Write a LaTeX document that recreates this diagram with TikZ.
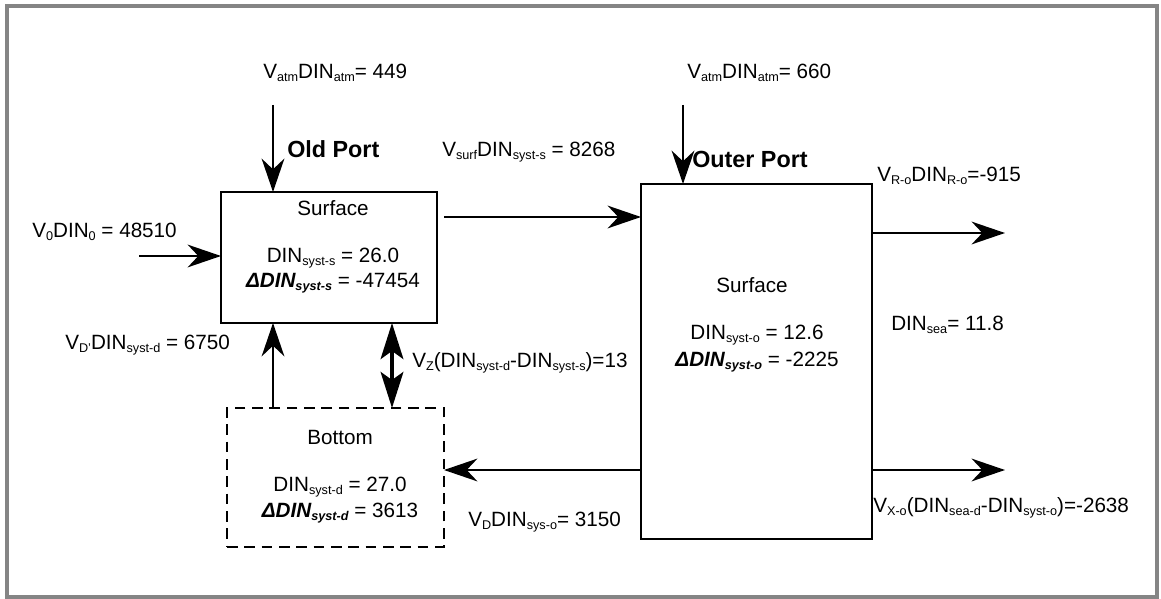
\documentclass[tikz,border=0pt]{standalone}
\usepackage{fontspec}
\setmainfont{Liberation Sans}
\usetikzlibrary{arrows.meta,calc}

\newcommand{\lowr}[1]{\raisebox{-2.2pt}{\fontsize{9.5pt}{10pt}\selectfont #1}}
\newcommand{\dltbf}[1]{{\bfseries\itshape ΔDIN\lowr{#1}}}

\begin{document}
\begin{tikzpicture}[
  x=0.75pt, y=-0.75pt,
  font=\fontsize{15.5pt}{18.75pt}\selectfont,
  flow/.style={-{Stealth[length=25pt,width=17pt,inset=8pt]}, line width=2.2pt},
  twoway/.style={{Stealth[length=27pt,width=17pt,inset=6pt]}-{Stealth[length=27pt,width=17pt,inset=6pt]}, line width=2.8pt},
  sysbox/.style={draw, line width=2.2pt, inner sep=0pt, outer sep=0pt},
  lbl/.style={anchor=west, inner sep=0pt},
  portname/.style={anchor=west, inner sep=0pt, font=\fontsize{17.5pt}{20pt}\selectfont\bfseries}
]
  \useasboundingbox (0,0) rectangle (1161,599);
  \draw[line width=2.3pt, draw=black!48] (7,6) rectangle (1157,597);

  % boxes
  \node[sysbox, minimum width=162pt, minimum height=98.25pt] (oldsurf) at (329,257.5) {};
  \node[sysbox, dash pattern=on 8pt off 5pt, minimum width=162.75pt, minimum height=104.25pt] (oldbot) at (335.5,477.5) {};
  \node[sysbox, minimum width=173.25pt, minimum height=266.25pt] (outsurf) at (756.5,361.5) {};

  % box texts
  \node (t1) at (333,208) {Surface};
  \node (t2) at (333,258) {DIN\lowr{syst-s} = 26.0};
  \node (t3) at (333,283) {\dltbf{syst-s} = -47454};
  \node (t4) at (340,437) {Bottom};
  \node (t5) at (340,487) {DIN\lowr{syst-d} = 27.0};
  \node (t6) at (340,513) {\dltbf{syst-d} = 3613};
  \node (t7) at (752,285) {Surface};
  \node (t8) at (757,335) {DIN\lowr{syst-o} = 12.6};
  \node (t9) at (757,362) {\dltbf{syst-o} = -2225};

  % free ends
  \coordinate (atmold) at (273,105);
  \coordinate (atmout) at (683,105);
  \coordinate (inflow) at (139,256);
  \coordinate (surfout) at (444,217);
  \coordinate (roend) at (1005,233);
  \coordinate (xoend) at (1005,470);
  \coordinate (backy) at (0,470);
  \coordinate (upx) at (273,0);
  \coordinate (mixx) at (392,0);

  % fluxes
  \draw[flow] (atmold) -- (atmold |- oldsurf.north);
  \draw[flow] (atmout) -- (atmout |- outsurf.north);
  \draw[flow] (inflow) -- (inflow -| oldsurf.west);
  \draw[flow] (surfout) -- (surfout -| outsurf.west);
  \draw[flow] (roend -| outsurf.east) -- (roend);
  \draw[flow] (xoend -| outsurf.east) -- (xoend);
  \draw[flow] (backy -| outsurf.west) -- (backy -| oldbot.east);
  \draw[flow] (upx |- oldbot.north) -- (upx |- oldsurf.south);
  \draw[twoway] (mixx |- oldbot.north) -- (mixx |- oldsurf.south);

  % labels
  \node[lbl] (latm1) at (263,73) {V\lowr{atm}DIN\lowr{atm}= 449};
  \node[portname] (pold) at (287,149) {Old Port};
  \node[lbl] (lin) at (32,232) {V\lowr{0}DIN\lowr{0} = 48510};
  \node[lbl] (lsurf) at (442,152) {V\lowr{surf}DIN\lowr{syst-s} = 8268};
  \node[lbl] (latm2) at (687,73) {V\lowr{atm}DIN\lowr{atm}= 660};
  \node[portname] (pout) at (692,159) {Outer Port};
  \node[lbl] (lro) at (877,176) {V\lowr{R-o}DIN\lowr{R-o}=-915};
  \node[lbl] (lsea) at (891,325) {DIN\lowr{sea}= 11.8};
  \node[lbl] (lxo) at (873,508) {V\lowr{X-o}(DIN\lowr{sea-d}-DIN\lowr{syst-o})=-2638};
  \node[lbl] (lback) at (468,522) {V\lowr{D}DIN\lowr{sys-o}= 3150};
  \node[lbl] (lup) at (65,345) {V\lowr{D'}DIN\lowr{syst-d} = 6750};
  \node[lbl] (lmix) at (412,363) {V\lowr{Z}(DIN\lowr{syst-d}-DIN\lowr{syst-s})=13};
\end{tikzpicture}
\end{document}
